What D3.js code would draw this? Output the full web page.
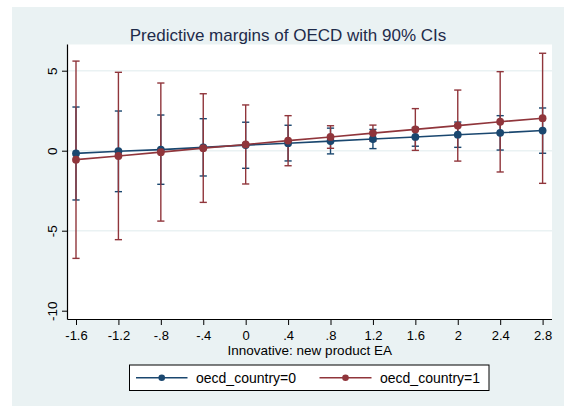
<!DOCTYPE html>
<html>
<head>
<meta charset="utf-8">
<script src="https://cdn.jsdelivr.net/npm/d3@7"></script>
<style>
  html, body { margin: 0; padding: 0; background: #ffffff; }
  svg { display: block; }
  text { font-family: "Liberation Sans", Arial, sans-serif; }
</style>
</head>
<body>
<svg id="chart" width="564" height="406"></svg>
<script>
// Predictive margins by OECD membership, 90% confidence intervals
const xValues = [-1.6, -1.2, -0.8, -0.4, 0, 0.4, 0.8, 1.2, 1.6, 2, 2.4, 2.8];
const xTickLabels = ["-1.6", "-1.2", "-.8", "-.4", "0", ".4", ".8", "1.2", "1.6", "2", "2.4", "2.8"];
const yTicks = [-10, -5, 0, 5];
const yTickLabels = ["-10", "-5", "0", "5"];
const seriesNames = ["oecd_country=0", "oecd_country=1"];

// oecd_country = 0
const margin0 = [-0.17, -0.03, 0.07, 0.21, 0.35, 0.47, 0.6, 0.73, 0.86, 1.0, 1.12, 1.26];
const lower0 = [-3.08, -2.56, -2.1, -1.58, -1.1, -0.64, -0.2, 0.13, 0.28, 0.21, 0.04, -0.16];
const upper0 = [2.73, 2.48, 2.23, 2.0, 1.78, 1.59, 1.41, 1.33, 1.45, 1.79, 2.19, 2.67];

// oecd_country = 1
const margin1 = [-0.56, -0.33, -0.09, 0.16, 0.39, 0.63, 0.86, 1.1, 1.33, 1.57, 1.81, 2.03];
const lower1 = [-6.73, -5.56, -4.4, -3.23, -2.08, -0.94, 0.15, 0.6, 0.02, -0.65, -1.33, -2.04];
const upper1 = [5.6, 4.9, 4.23, 3.56, 2.86, 2.19, 1.56, 1.6, 2.63, 3.79, 4.94, 6.09];

const colors = ["#1a476f", "#90353b"];

const svg = d3.select("#chart");

// graph region background
svg.append("rect").attr("x", 12).attr("y", 7).attr("width", 552).attr("height", 399)
  .attr("fill", "#eaf2f3");

// plot region
const plot = { left: 67.5, right: 552, top: 44.5, bottom: 319.5 };
svg.append("rect")
  .attr("x", plot.left).attr("y", plot.top)
  .attr("width", plot.right - plot.left).attr("height", plot.bottom - plot.top)
  .attr("fill", "#ffffff");

const x = d3.scaleLinear().domain([-1.6, 2.8]).range([76, 542.6]);
const y = d3.scaleLinear().domain([-10, 5]).range([310.7, 70.7]);

// horizontal grid
svg.append("g").selectAll("line").data([-5, 0, 5]).join("line")
  .attr("x1", plot.left).attr("x2", plot.right)
  .attr("y1", d => y(d)).attr("y2", d => y(d))
  .attr("stroke", "#eaf2f3").attr("stroke-width", 1.5);

// title
svg.append("text")
  .attr("x", 288).attr("y", 41)
  .attr("text-anchor", "middle")
  .attr("font-size", 17)
  .attr("fill", "#1e2b4a")
  .text("Predictive margins of OECD with 90% CIs");

// y axis
const yAxis = d3.axisLeft(y).tickValues(yTicks).tickSize(5.5)
  .tickFormat((d, i) => yTickLabels[i]);
const gy = svg.append("g").attr("transform", `translate(${plot.left},0)`).call(yAxis);
gy.select(".domain").attr("d", `M0,${plot.top}V${plot.bottom}`).attr("stroke", "#000").attr("stroke-width", 1.2);
gy.selectAll(".tick line").attr("stroke", "#000");
gy.selectAll(".tick text")
  .attr("x", 0).attr("dy", 0)
  .attr("transform", "translate(-11,0) rotate(-90)")
  .attr("text-anchor", "middle")
  .attr("font-size", 13.5)
  .attr("font-family", "Liberation Sans, Arial, sans-serif")
  .attr("fill", "#000");

// x axis
const xAxis = d3.axisBottom(x).tickValues(xValues).tickSize(5.5)
  .tickFormat((d, i) => xTickLabels[i]);
const gx = svg.append("g").attr("transform", `translate(0,${plot.bottom})`).call(xAxis);
gx.select(".domain").attr("d", `M${plot.left},0H${plot.right}`).attr("stroke", "#000").attr("stroke-width", 1.2);
gx.selectAll(".tick line").attr("stroke", "#000");
gx.selectAll(".tick text")
  .attr("y", 20.3).attr("dy", 0)
  .attr("font-size", 13)
  .attr("font-family", "Liberation Sans, Arial, sans-serif")
  .attr("fill", "#000");

svg.append("text")
  .attr("x", (plot.left + plot.right) / 2).attr("y", 355)
  .attr("text-anchor", "middle")
  .attr("font-size", 13.5)
  .attr("fill", "#000")
  .text("Innovative: new product EA");

const series = [
  { margin: margin0, lower: lower0, upper: upper0, color: colors[0] },
  { margin: margin1, lower: lower1, upper: upper1, color: colors[1] }
];

// confidence interval caps
const capHalf = 3.6;
series.forEach(s => {
  const g = svg.append("g").attr("stroke", s.color).attr("stroke-width", 1.4).attr("fill", "none");
  xValues.forEach((xv, i) => {
    const px = x(xv), lo = y(s.lower[i]), hi = y(s.upper[i]);
    g.append("line").attr("x1", px).attr("x2", px).attr("y1", lo).attr("y2", hi);
    g.append("line").attr("x1", px - capHalf).attr("x2", px + capHalf).attr("y1", lo).attr("y2", lo);
    g.append("line").attr("x1", px - capHalf).attr("x2", px + capHalf).attr("y1", hi).attr("y2", hi);
  });
});

// margin lines and markers
const line = d3.line().x((d, i) => x(xValues[i])).y(d => y(d));
series.forEach(s => {
  svg.append("path").datum(s.margin)
    .attr("d", line).attr("fill", "none")
    .attr("stroke", s.color).attr("stroke-width", 1.6);
  svg.append("g").selectAll("circle").data(s.margin).join("circle")
    .attr("cx", (d, i) => x(xValues[i])).attr("cy", d => y(d))
    .attr("r", 3.9).attr("fill", s.color);
});

// legend
const leg = { x: 129.5, y: 365, w: 359.5, h: 25.5 };
svg.append("rect").attr("x", leg.x).attr("y", leg.y).attr("width", leg.w).attr("height", leg.h)
  .attr("fill", "#ffffff").attr("stroke", "#000").attr("stroke-width", 1);
const legendItems = [
  { x1: 136, x2: 187.5, tx: 196 },
  { x1: 319.5, x2: 371.5, tx: 380 }
];
legendItems.forEach((it, i) => {
  const cy = leg.y + leg.h / 2;
  svg.append("line").attr("x1", it.x1).attr("x2", it.x2).attr("y1", cy).attr("y2", cy)
    .attr("stroke", colors[i]).attr("stroke-width", 1.6);
  svg.append("circle").attr("cx", (it.x1 + it.x2) / 2).attr("cy", cy).attr("r", 3.3).attr("fill", colors[i]);
  svg.append("text").attr("x", it.tx).attr("y", cy + 5)
    .attr("font-size", 14).attr("fill", "#000").text(seriesNames[i]);
});
</script>
</body>
</html>
